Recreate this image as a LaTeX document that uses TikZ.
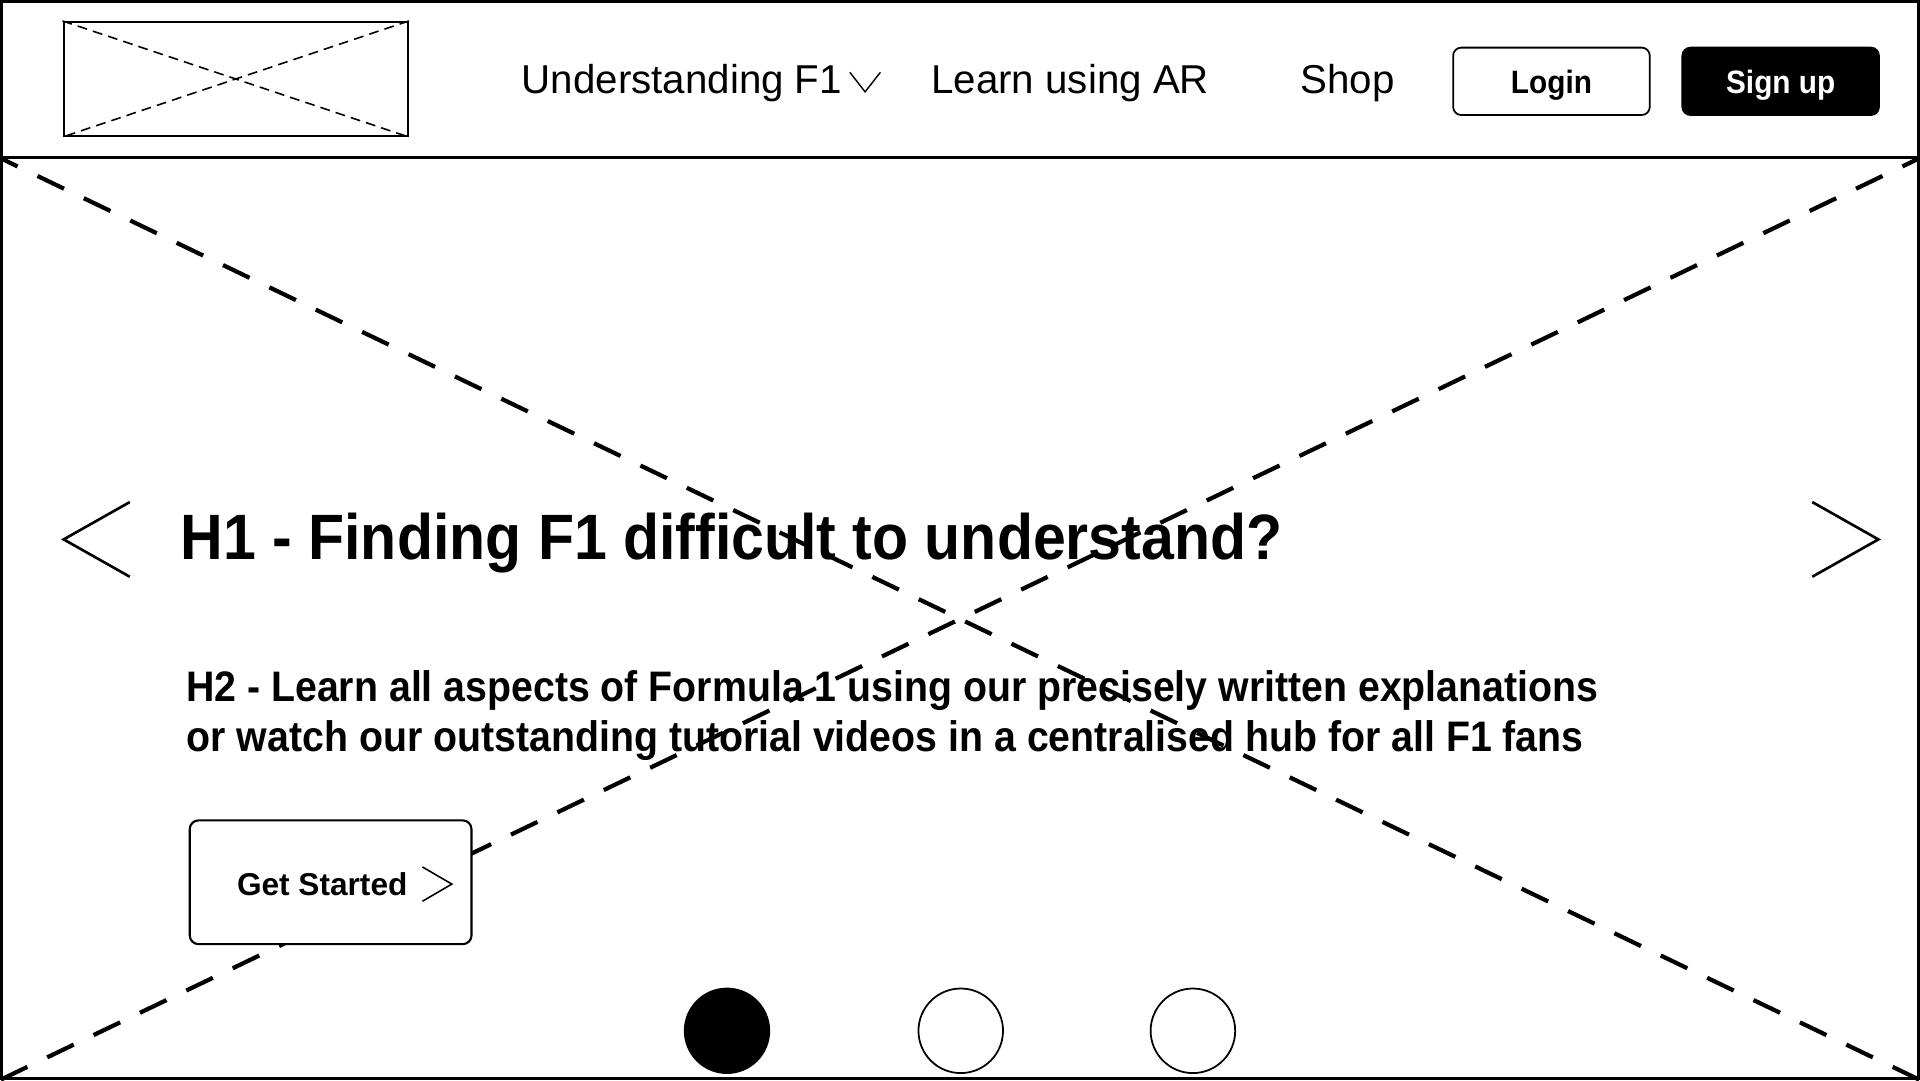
\documentclass[tikz,border=0pt]{standalone}
\usepackage{fontspec}
\setmainfont{Liberation Sans}
\newfontfamily\headfont[FakeStretch=0.92]{Liberation Sans}

\begin{document}
\begin{tikzpicture}[x=0.012245cm,y=-0.012245cm,
	frame/.style={line width=0.77pt},
	btn/.style={draw,line width=0.5pt,rounded corners=2.3pt,minimum width=1.965cm,minimum height=0.6735cm,inner sep=0pt,text depth=0pt,font=\headfont\bfseries\fontsize{9.2}{11}\selectfont},
	navtext/.style={anchor=base west,inner sep=0pt,font=\fontsize{11.46}{13}\selectfont},
	subtext/.style={anchor=base west,inner sep=0pt,font=\headfont\bfseries\fontsize{12.14}{14}\selectfont},
	bigdash/.style={line width=1.2pt,dash pattern=on 8.36pt off 6.27pt,dash phase=2.8pt},
	chev/.style={line width=0.75pt},
	dot/.style={circle,draw,line width=0.5pt,minimum size=0.845cm,inner sep=0pt}]
	\useasboundingbox (0,0) rectangle (1568,882);

	% hero placeholder cross
	\coordinate (heronw) at (0,129);
	\coordinate (herone) at (1568,129);
	\coordinate (herosw) at (0,882);
	\coordinate (herose) at (1568,882);
	\draw[bigdash] (heronw) -- (herose);
	\draw[bigdash] (herone) -- (herosw);

	% frame and header
	\draw[frame] (1.1,1.1) rectangle (1566.9,880.9);
	\draw[line width=0.95pt] (0,128.7) -- (1568,128.7);

	% logo
	\node[draw,line width=0.6pt,minimum width=3.441cm,minimum height=1.139cm,inner sep=0pt] (logo) at (192.5,64.5) {};
	\draw[line width=0.45pt,dash pattern=on 2.8pt off 1.75pt] (logo.north west) -- (logo.south east);
	\draw[line width=0.45pt,dash pattern=on 2.8pt off 1.75pt] (logo.north east) -- (logo.south west);

	% menu
	\node[navtext] (understand) at (425.5,76) {Understanding F1};
	\draw[line width=0.4pt] (694,59) -- (706.5,75) -- (719,59);
	\node[navtext] (learnar) at (760,76) {Learn using AR};
	\node[navtext] (shop) at (1061.5,76) {Shop};
	\node[btn] (login) at (1267,66.4) {Login};
	\node[btn,fill=black,text=white] (signup) at (1454.2,66.4) {Sign up};

	% slider arrows
	\draw[chev] (106,410) -- (52,440.5) -- (106,471);
	\draw[chev] (1480,410) -- (1534,440.5) -- (1480,471);

	% headings
	\node[anchor=base west,inner sep=0pt,font=\headfont\bfseries\fontsize{18.24}{22}\selectfont] (title) at (147,456.8) {H1 - Finding F1 difficult to understand?};
	\node[subtext] (subone) at (151.5,572.5) {H2 - Learn all aspects of Formula 1 using our precisely written explanations};
	\node[subtext] (subtwo) at (152,613.5) {or watch our outstanding tutorial videos in a centralised hub for all F1 fans};

	% call to action
	\node[draw,fill=white,line width=0.6pt,rounded corners=2.5pt,minimum width=2.816cm,minimum height=1.237cm,inner sep=0pt] (start) at (270,720.5) {};
	\node[anchor=base west,inner sep=0pt,font=\bfseries\fontsize{8.99}{11}\selectfont] (starttext) at (193,731) {Get Started};
	\draw[line width=0.45pt] (345,708) -- (369,722) -- (345,736);

	% slide dots
	\foreach \cx/\shade [count=\i] in {593.7/black,784.6/white,974.2/white}
		\node[dot,fill=\shade] (dot\i) at (\cx,841.8) {};

\end{tikzpicture}
\end{document}
